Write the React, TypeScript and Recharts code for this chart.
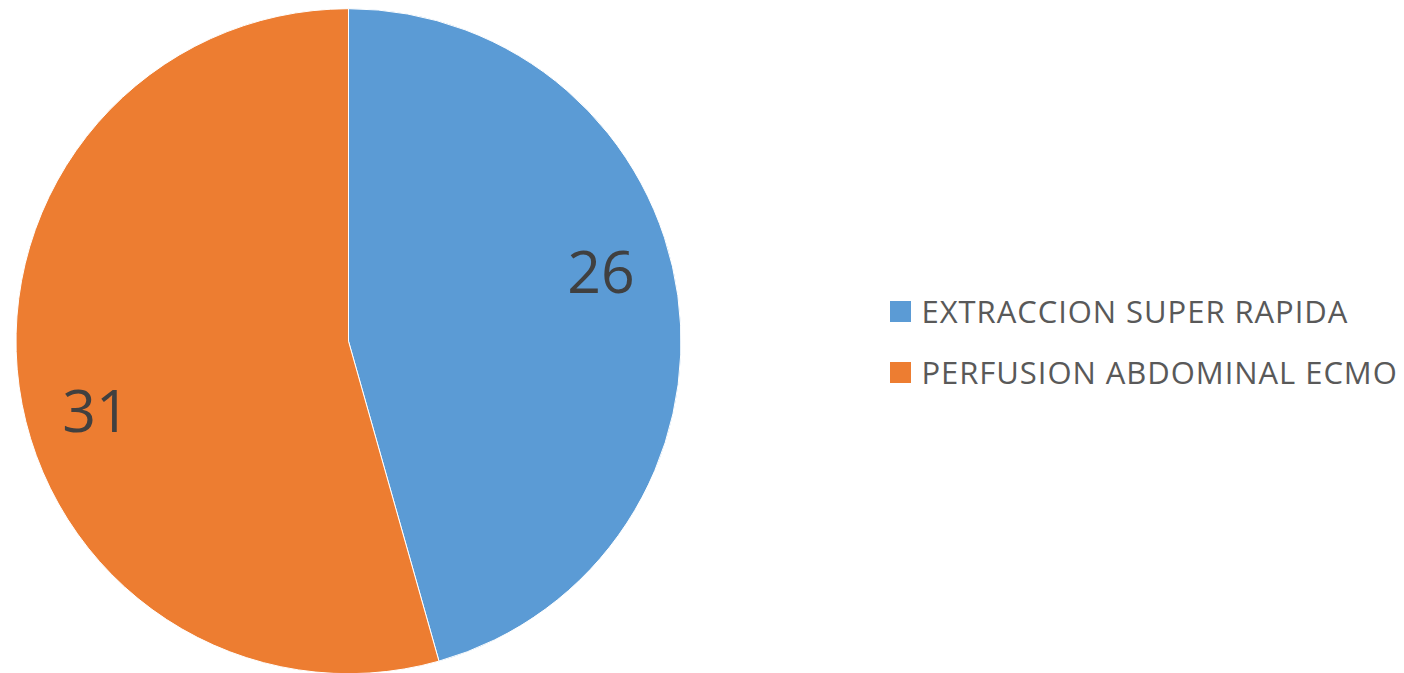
import React from "react";
import { PieChart, Pie, Cell, Legend } from "recharts";

const categories = ["EXTRACCION SUPER RAPIDA", "PERFUSION ABDOMINAL ECMO"];
const values = [26, 31];
const colors = ["#5B9BD5", "#ED7D31"];

const data = categories.map((name, i) => ({ name, value: values[i] }));

const RAD = Math.PI / 180;

const renderLabel = (props: any) => {
  const { cx, cy, midAngle, outerRadius, value } = props;
  const r = outerRadius * 0.788;
  const a = (midAngle + 7.5) * RAD;
  const x = cx + r * Math.cos(a);
  const y = cy - r * Math.sin(a);
  const fs = 59;
  return (
    <text
      x={x}
      y={y + fs * 0.357}
      textAnchor="middle"
      fill="#404040"
      fontFamily="'Open Sans', sans-serif"
      fontSize={fs}
    >
      {value}
    </text>
  );
};

const renderLegend = (props: any) => {
  const { payload } = props;
  return (
    <ul style={{ listStyle: "none", margin: 0, padding: 0 }}>
      {payload.map((entry: any, i: number) => (
        <li
          key={i}
          style={{
            height: 61,
            display: "flex",
            alignItems: "center",
            whiteSpace: "nowrap",
          }}
        >
          <span
            style={{
              display: "inline-block",
              width: 21,
              height: 21,
              background: entry.color,
              marginRight: 10.5,
            }}
          />
          <span
            style={{
              fontFamily: "'Open Sans', sans-serif",
              fontSize: 31,
              letterSpacing: 0.95,
              color: "#595959",
              lineHeight: "61px",
            }}
          >
            {entry.value}
          </span>
        </li>
      ))}
    </ul>
  );
};

export default function App() {
  return (
    <PieChart width={1396} height={665} margin={{ top: 0, right: 0, bottom: 0, left: 0 }}>
      <Pie
        data={data}
        dataKey="value"
        nameKey="name"
        cx={340.5}
        cy={333.2}
        outerRadius={332.5}
        startAngle={90}
        endAngle={-270}
        stroke="#ffffff"
        strokeWidth={1}
        label={renderLabel}
        labelLine={false}
        isAnimationActive={false}
      >
        {data.map((d, i) => (
          <Cell key={d.name} fill={colors[i]} />
        ))}
      </Pie>
      <Legend
        content={renderLegend}
        layout="vertical"
        verticalAlign="top"
        align="right"
        wrapperStyle={{ left: 882, top: 273, width: 514 }}
      />
    </PieChart>
  );
}
